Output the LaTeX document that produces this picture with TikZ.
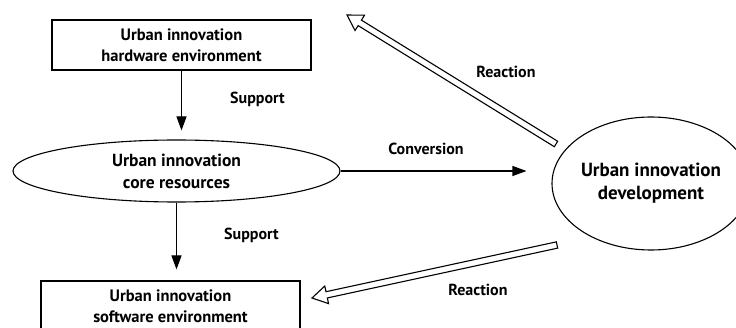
\documentclass[tikz,border=0pt]{standalone}
\usepackage{fontspec}
\setmainfont{PT Sans}
\usepackage{tikz}
\usetikzlibrary{arrows.meta, positioning, shapes.geometric, calc}

% hollow double-line arrow from #1 (tail) to #2 (tip)
\newcommand{\reactarrow}[2]{%
  \coordinate (hb) at ($(#2)!15pt!(#1)$);
  \draw[hollow] ($(#1)!3.2pt!90:(#2)$) -- ($(hb)!3.2pt!-90:(#1)$) -- ($(hb)!9pt!-90:(#1)$)
    -- (#2) -- ($(hb)!9pt!90:(#1)$) -- ($(hb)!3.2pt!90:(#1)$) -- ($(#1)!3.2pt!-90:(#2)$) -- cycle;
}

\begin{document}
\begin{tikzpicture}[x=1pt, y=-1pt,
  box/.style={draw, rectangle, line width=1.1pt, minimum width=259pt, minimum height=50pt,
    inner sep=0pt, align=center, font=\fontsize{16.5pt}{21pt}\selectfont\bfseries},
  core/.style={draw, ellipse, line width=1.1pt, minimum width=327pt, minimum height=62pt,
    inner sep=0pt, align=center, font=\fontsize{17.5pt}{22pt}\selectfont\bfseries},
  devel/.style={draw, ellipse, line width=1.1pt, minimum width=198pt, minimum height=133pt,
    inner sep=0pt, align=center, font=\fontsize{19pt}{23pt}\selectfont\bfseries},
  lbl/.style={font=\fontsize{16pt}{18pt}\selectfont\bfseries},
  arr/.style={-{Triangle[length=14pt, width=10pt]}, line width=1.1pt},
  hollow/.style={draw, fill=white, line width=1.1pt, line join=miter}
]
\useasboundingbox (0,0) rectangle (736,328);

\node[box] (hw) at (181.5,45) {Urban innovation\\hardware environment};
\node[core] (core) at (176.5,171) {Urban innovation\\core resources};
\node[box] (sw) at (170.5,306) {Urban innovation\\software environment};
\node[devel] (dev) at (651,183.5) {Urban innovation\\development};

\draw[arr, shorten >=9pt] (hw.south) -- (hw.south |- core.north);
\draw[arr, shorten >=11pt] (core.south) -- (core.south |- sw.north);
\draw[arr, shorten >=25pt] (core.east) -- (core.east -| dev.west);

\coordinate (r1a) at (556,144);
\coordinate (r1b) at (347,15);
\coordinate (r2a) at (557,245);
\coordinate (r2b) at (312,298);
\reactarrow{r1a}{r1b}
\reactarrow{r2a}{r2b}

\node[lbl] (sup1) at (257.5,99) {Support};
\node[lbl] (sup2) at (251.5,235) {Support};
\node[lbl] (conv) at (426,149) {Conversion};
\node[lbl] (rea1) at (506,72) {Reaction};
\node[lbl] (rea2) at (478,289.5) {Reaction};
\end{tikzpicture}
\end{document}
